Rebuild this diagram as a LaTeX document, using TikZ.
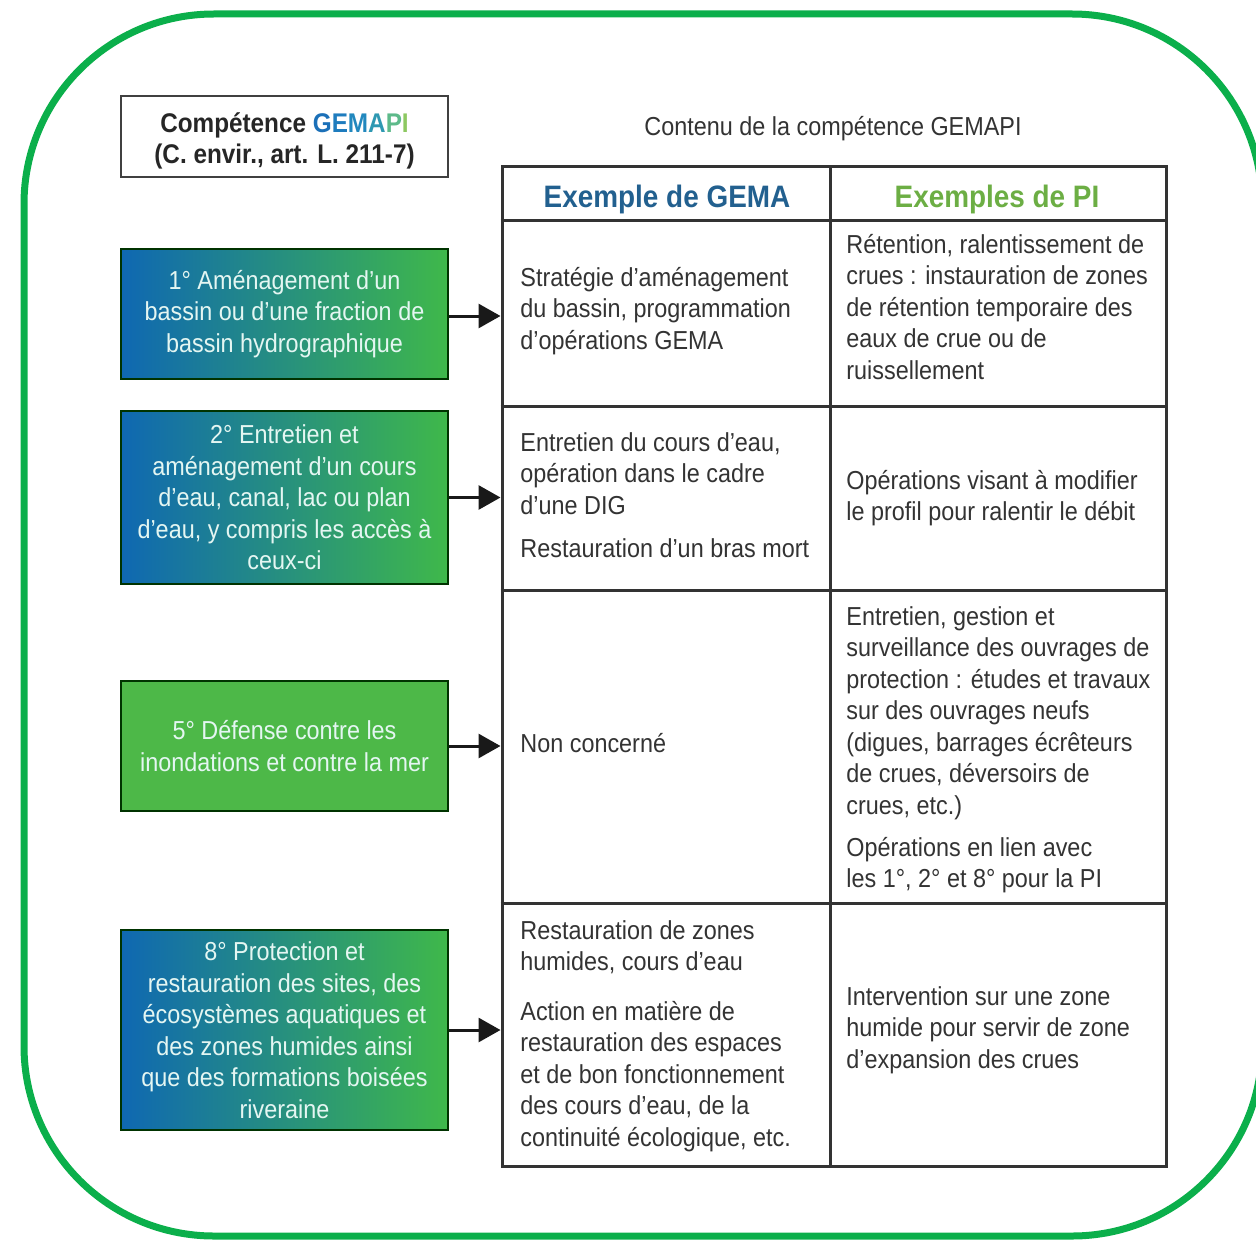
\documentclass[tikz,border=0pt]{standalone}
\usepackage{fontspec}
\setmainfont{Liberation Sans}[FakeStretch=0.9]
\usetikzlibrary{arrows.meta}
\definecolor{framegreen}{HTML}{0BAF4B}
\definecolor{gblue}{HTML}{0F68B2}
\definecolor{ggreen}{HTML}{3FB84A}
\definecolor{solgreen}{HTML}{4DB848}
\definecolor{txt}{HTML}{333333}
\definecolor{hblue}{HTML}{22608F}
\definecolor{hgreen}{HTML}{6CAE44}
\definecolor{boxtext}{HTML}{E4F6F2}
\definecolor{cG}{HTML}{1B70B8}
\definecolor{cE}{HTML}{1E7CBE}
\definecolor{cM}{HTML}{2288BE}
\definecolor{cA}{HTML}{2E98B2}
\definecolor{cP}{HTML}{5DBA8A}
\definecolor{cI}{HTML}{8DC861}
\tikzset{
  hdrbox/.style={draw=black!75, line width=1pt, fill=white, minimum width=163.5pt,
    minimum height=40.5pt, align=center, inner sep=0,
    font=\bfseries\fontsize{13.5}{15.5}\selectfont, text=black!85},
  gbox/.style={draw=black!80!green, line width=1pt, left color=gblue, right color=ggreen,
    minimum width=163.5pt, align=center, text=boxtext, inner sep=0,
    font=\fontsize{13}{15.75}\selectfont},
  sbox/.style={gbox, left color=solgreen, right color=solgreen},
  tline/.style={draw=txt, line width=1.5pt},
  arr/.style={line width=1.5pt, draw=black!90, -{Triangle[length=11pt,width=12pt]}},
  body/.style={font=\fontsize{13}{15.75}\selectfont, align=left, inner sep=0,
    anchor=base west, text=txt},
  colhead/.style={font=\bfseries\fontsize{15.5}{18}\selectfont, anchor=base, inner sep=0}
}
\begin{document}
\begin{tikzpicture}[x=0.5pt,y=-0.5pt]
\useasboundingbox (0,0) rectangle (1256,1241);
\clip (0,0) rectangle (1256,1241);
\draw[framegreen, line width=3.5pt, rounded corners=95pt] (24,14) rectangle (1262,1236);

% header box
\node[hdrbox] (hdr) at (284.5,136.5) {\rule{0pt}{14pt}Compétence {\color{cG}G}{\color{cE}E}{\color{cM}M}{\color{cA}A}{\color{cP}P}{\color{cI}I}\\(C. envir., art. L. 211-7)};

\node[font=\fontsize{13}{15.75}\selectfont, text=txt, anchor=base, inner sep=0] (cont) at (833,136) {Contenu de la compétence GEMAPI};

% left boxes
\node[gbox, minimum height=65pt] (b1) at (284.5,314) {1° Aménagement d'un\\bassin ou d'une fraction de\\bassin hydrographique};
\node[gbox, minimum height=86.5pt] (b2) at (284.5,497.5) {2° Entretien et\\aménagement d'un cours\\d'eau, canal, lac ou plan\\d'eau, y compris les accès à\\ceux-ci};
\node[sbox, minimum height=65pt] (b3) at (284.5,746) {5° Défense contre les\\inondations et contre la mer};
\node[gbox, minimum height=100pt] (b4) at (284.5,1030) {8° Protection et\\restauration des sites, des\\écosystèmes aquatiques et\\des zones humides ainsi\\que des formations boisées\\riveraine};

% table
\node[draw=txt, line width=1.5pt, minimum width=332pt, minimum height=499.5pt, inner sep=0] (tbl) at (834,666.5) {};
\coordinate (ctop) at (830,167);
\draw[tline] (ctop) -- (ctop |- tbl.south);
\foreach \yy in {220,406,590,903} {
  \draw[tline] (tbl.west |- 0,\yy) -- (tbl.east |- 0,\yy);
}

\node[colhead, text=hblue] (h1) at (667,207) {Exemple de GEMA};
\node[colhead, text=hgreen] (h2) at (997,207) {Exemples de PI};

% arrows
\draw[arr] ([yshift=-1pt]b1.east) -- ([yshift=-1pt]b1.east -| tbl.west);
\draw[arr] (b2.east) -- (b2.east -| tbl.west);
\draw[arr] (b3.east) -- (b3.east -| tbl.west);
\draw[arr] (b4.east) -- (b4.east -| tbl.west);

% row 1 (anchor = baseline of last line)
\node[body] (r1l) at (520,349) {Stratégie d'aménagement\\du bassin, programmation\\d'opérations GEMA};
\node[body] (r1r) at (846,379) {Rétention, ralentissement de\\crues : instauration de zones\\de rétention temporaire des\\eaux de crue ou de\\ruissellement};
% row 2
\node[body] (r2l) at (520,514) {Entretien du cours d'eau,\\opération dans le cadre\\d'une DIG};
\node[body] (r2lb) at (520,557) {Restauration d'un bras mort};
\node[body] (r2r) at (846,520.5) {Opérations visant à modifier\\le profil pour ralentir le débit};
% row 3
\node[body] (r3l) at (520,752) {Non concerné};
\node[body] (r3r) at (846,814) {Entretien, gestion et\\surveillance des ouvrages de\\protection : études et travaux\\sur des ouvrages neufs\\(digues, barrages écrêteurs\\de crues, déversoirs de\\crues, etc.)};
\node[body] (r3rb) at (846,887.5) {Opérations en lien avec\\les 1°, 2° et 8° pour la PI};
% row 4
\node[body] (r4l) at (520,970.5) {Restauration de zones\\humides, cours d'eau};
\node[body] (r4lb) at (520,1146) {Action en matière de\\restauration des espaces\\et de bon fonctionnement\\des cours d'eau, de la\\continuité écologique, etc.};
\node[body] (r4r) at (846,1068) {Intervention sur une zone\\humide pour servir de zone\\d'expansion des crues};
\end{tikzpicture}
\end{document}
